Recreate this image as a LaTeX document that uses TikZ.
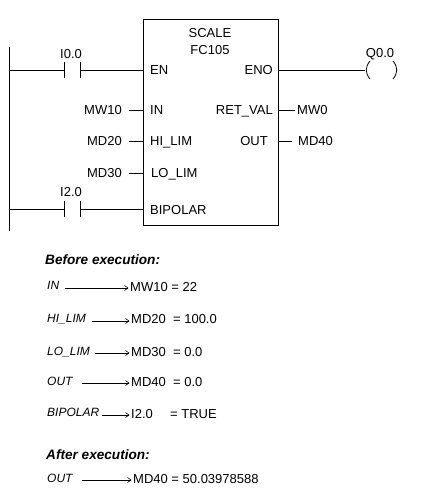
\documentclass[tikz,border=0pt]{standalone}
\usepackage{fontspec}
\setmainfont{Liberation Sans}
\usetikzlibrary{arrows.meta,positioning}

\begin{document}
\begin{tikzpicture}[
x=1pt, y=-1pt,
lbl/.style={inner sep=0pt, text height=9pt, text depth=0pt, font=\fontsize{13}{14}\selectfont},
pin/.style={lbl, anchor=west},
rpin/.style={lbl, anchor=east},
note/.style={inner sep=0pt, text height=9pt, text depth=0pt, anchor=west, font=\fontsize{12}{13}\selectfont\itshape},
val/.style={lbl, anchor=west},
head/.style={inner sep=0pt, text height=9pt, text depth=0pt, anchor=west, font=\fontsize{13.6}{14}\selectfont\bfseries\itshape},
wire/.style={line width=0.8pt},
arr/.style={-{Straight Barb[length=3.5pt,width=5pt]}, line width=0.6pt, shorten >=1.5pt}
]
\useasboundingbox (0,0) rectangle (420,494);
% block
\node[draw, line width=0.8pt, minimum width=135pt, minimum height=206pt, inner sep=0pt, anchor=north west] (fc) at (143,19) {};
\node[lbl] (title) at (210,33) {SCALE};
\node[lbl] (num) at (210,50) {FC105};
% pins inside the block
\node[pin] (en) at (150,70) {EN};
\node[pin] (in) at (150,110) {IN};
\node[pin] (hi) at (150,141) {HI\_LIM};
\node[pin] (lo) at (151,173) {LO\_LIM};
\node[pin] (bi) at (150,210) {BIPOLAR};
\node[rpin] (eno) at (273,70) {ENO};
\node[rpin] (ret) at (273,110) {RET\_VAL};
\node[rpin] (out) at (268,141) {OUT};
% operands
\node[rpin] (mw10) at (122,110) {MW10};
\node[rpin] (md20) at (122,141) {MD20};
\node[rpin] (md30) at (122,173) {MD30};
\node[pin] (mw0) at (297,110) {MW0};
\node[pin] (md40) at (298,141) {MD40};
\node[lbl] (i00) at (71,54) {I0.0};
\node[lbl] (i20) at (71,192) {I2.0};
\node[lbl] (q00) at (380,53) {Q0.0};
% rail and wiring
\coordinate (railtop) at (9,47);
\coordinate (railbot) at (9,231);
\coordinate (r1) at (9,70);
\coordinate (r2) at (9,209);
\coordinate (c1a) at (64,70);
\coordinate (c1b) at (80,70);
\coordinate (c2a) at (64,209);
\coordinate (c2b) at (80,209);
\coordinate (e1) at (143,70);
\coordinate (e2) at (143,209);
\coordinate (e3) at (278,70);
\coordinate (coil) at (365,70);
\coordinate (coilb) at (393,70);
\draw[wire] (railtop) -- (railbot);
\draw[wire] (r1) -- (c1a);
\draw[wire] (c1b) -- (e1);
\draw[wire] (r2) -- (c2a);
\draw[wire] (c2b) -- (e2);
\draw[wire] (e3) -- (coil);
\foreach \c in {c1a,c1b,c2a,c2b} \draw[wire] ([yshift=-8pt]\c) -- ([yshift=8pt]\c);
\draw[wire] ([shift={(5,-9)}]coil) .. controls ([shift={(0,-3)}]coil) and ([shift={(0,3)}]coil) .. ([shift={(5,9)}]coil);
\draw[wire] (coilb) ++(0,-9) .. controls ([shift={(5,-3)}]coilb) and ([shift={(5,3)}]coilb) .. ([shift={(0,9)}]coilb);
% stubs
\draw[wire] (129,110) -- (in.west -| fc.west);
\draw[wire] (129,141) -- (hi.west -| fc.west);
\draw[wire] (129,173) -- (lo.west -| fc.west);
\draw[wire] (ret.east -| fc.east) -- (295,110);
\draw[wire] (out.east -| fc.east) -- (292,141);
% before execution
\node[head] (before) at (45,260) {Before execution:};
\node[note] (n1) at (47,285) {IN};
\node[val] (v1) at (130,287) {MW10 = 22};
\node[note] (n2) at (47,318) {HI\_LIM};
\node[val] (v2) at (131,319) {MD20 \ = 100.0};
\node[note] (n3) at (47,351) {LO\_LIM};
\node[val] (v3) at (131,352) {MD30 \ = 0.0};
\node[note] (n4) at (47,381) {OUT};
\node[val] (v4) at (131,382) {MD40 \ = 0.0};
\node[note] (n5) at (47,412) {BIPOLAR};
\node[val] (v5) at (131,414) {I2.0};
\node[val] (t5) at (170,414) {= TRUE};
% after execution
\node[head] (after) at (46,455) {After execution:};
\node[note] (n6) at (47,478) {OUT};
\node[val] (v6) at (133,479) {MD40 = 50.03978588};
\coordinate (a1) at (65,288);
\coordinate (a2) at (92,321);
\coordinate (a3) at (95,353);
\coordinate (a4) at (82,383);
\coordinate (a5) at (102,415);
\coordinate (a6) at (82,480);
\draw[arr] (a1) -- (a1 -| v1.west);
\draw[arr] (a2) -- (a2 -| v2.west);
\draw[arr] (a3) -- (a3 -| v3.west);
\draw[arr] (a4) -- (a4 -| v4.west);
\draw[arr] (a5) -- (a5 -| v5.west);
\draw[arr] (a6) -- (a6 -| v6.west);
\end{tikzpicture}
\end{document}
